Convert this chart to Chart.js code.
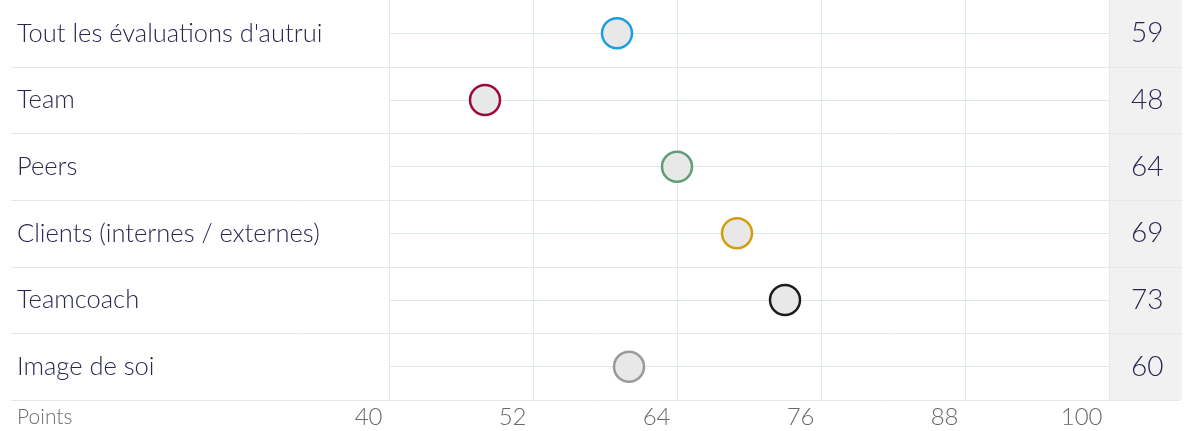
<!DOCTYPE html>
<html>
<head>
<meta charset="utf-8">
<script src="https://cdn.jsdelivr.net/npm/chart.js@4"></script>
<style>
    html, body { margin: 0; padding: 0; background: #fff; }
    #wrap { width: 1188px; height: 431px; }
</style>
</head>
<body>
<div id="wrap"><canvas id="dotChart" width="1188" height="431"></canvas></div>
<script>
// ============================================
// DATA
// ============================================
const categories = [
    "Tout les évaluations d'autrui",
    'Team',
    'Peers',
    'Clients (internes / externes)',
    'Teamcoach',
    'Image de soi'
]
const scores = [59, 48, 64, 69, 73, 60]
const dotColors = ['#199fe0', '#9a0a3c', '#5f9c78', '#d39c0a', '#1c1c1c', '#9a9a9a']
const xTicks = [40, 52, 64, 76, 88, 100]

const FONT = 'Lato'
const NAVY = '#272752'

// ============================================
// ROW DECORATION (gray value column, row separators, axis caption)
// ============================================
const rowDecor = {
    id: 'rowDecor',
    beforeDraw(chart) {
        const { ctx, chartArea } = chart
        ctx.save()
        ctx.fillStyle = '#f1f1f1'
        ctx.fillRect(chartArea.right, 0, 1182 - chartArea.right, chartArea.bottom)
        ctx.restore()
    },
    beforeDatasetsDraw(chart) {
        const { ctx, chartArea, scales } = chart
        const y = scales.y
        const step = y.getPixelForValue(1) - y.getPixelForValue(0)
        ctx.save()
        ctx.strokeStyle = '#e6e8e8'
        ctx.lineWidth = 1
        for (let i = 0; i < categories.length; i++) {
            const yy = Math.round(y.getPixelForValue(i) + step / 2) + 0.5
            ctx.beginPath()
            ctx.moveTo(11, yy)
            ctx.lineTo(i === categories.length - 1 ? 1180 : 1182, yy)
            ctx.stroke()
        }
        ctx.fillStyle = '#6e6e6e'
        ctx.font = `300 21px ${FONT}`
        ctx.textBaseline = 'middle'
        ctx.textAlign = 'left'
        ctx.fillText('Points', 17, chartArea.bottom + 17)
        ctx.restore()
    }
}

// vertical axes: no extra room above/below the first and last rows
const noEdgePadding = (axis) => {
    axis.paddingTop = 0
    axis.paddingBottom = 0
}

// ============================================
// CHART
// ============================================
const ctx = document.getElementById('dotChart').getContext('2d')

new Chart(ctx, {
    type: 'scatter',
    data: {
        labels: categories,
        datasets: [{
            data: categories.map((c, i) => ({ x: scores[i], y: c })),
            pointRadius: 15,
            pointHoverRadius: 15,
            pointBorderWidth: 2.5,
            pointBackgroundColor: '#e8e8e8',
            pointBorderColor: dotColors
        }]
    },
    options: {
        responsive: false,
        animation: false,
        layout: {
            autoPadding: false,
            padding: { left: 17, right: 0, top: 0, bottom: 0 }
        },
        plugins: {
            legend: { display: false },
            tooltip: { enabled: false }
        },
        scales: {
            x: {
                type: 'linear',
                min: 40,
                max: 100,
                afterBuildTicks: (axis) => { axis.ticks = xTicks.map(v => ({ value: v })) },
                afterFit: (axis) => {
                    axis.height = 31
                    axis.paddingLeft = 0
                    axis.paddingRight = 0
                },
                border: { display: false },
                grid: { color: '#e6e8e8', drawTicks: false },
                ticks: {
                    align: 'end',
                    padding: 3,
                    color: '#6a6a6a',
                    font: { family: FONT, size: 24, weight: '300' },
                    callback: (v) => v + ' '
                }
            },
            y: {
                type: 'category',
                labels: categories,
                offset: true,
                afterFit: (axis) => {
                    axis.width = 389 - 17
                    noEdgePadding(axis)
                },
                border: { display: false },
                grid: { color: '#dde9e6', offset: false, drawTicks: false },
                ticks: {
                    crossAlign: 'far',
                    padding: 0,
                    color: NAVY,
                    font: { family: FONT, size: 25.5, weight: '300' }
                }
            },
            yValue: {
                type: 'category',
                position: 'right',
                labels: scores.map(String),
                offset: true,
                afterFit: (axis) => {
                    axis.width = 1188 - 1109
                    noEdgePadding(axis)
                },
                border: { display: false },
                grid: { display: false },
                ticks: {
                    crossAlign: 'center',
                    padding: 14,
                    color: NAVY,
                    font: { family: FONT, size: 28, weight: '300' }
                }
            }
        }
    },
    plugins: [rowDecor]
})
</script>
</body>
</html>
